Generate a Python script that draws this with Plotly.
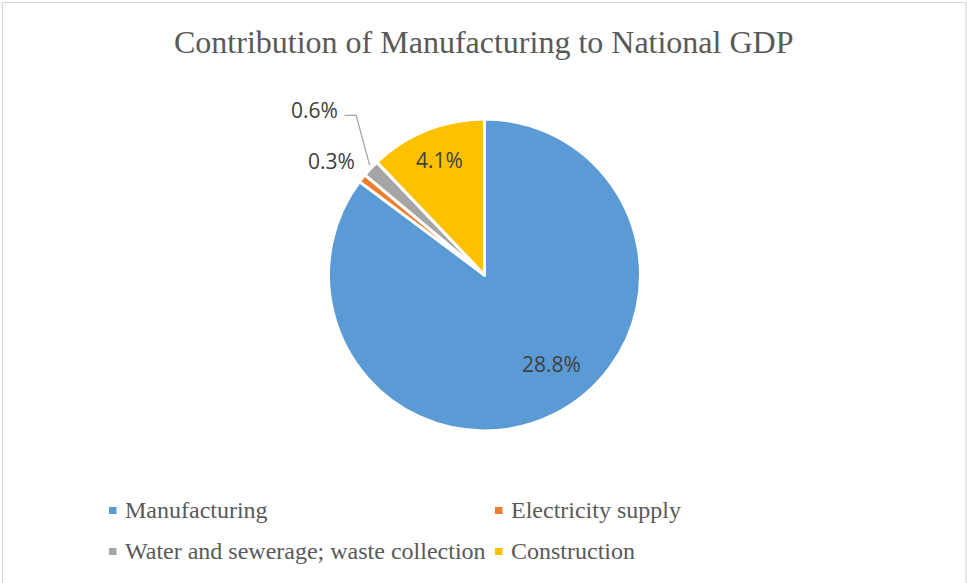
import math
import plotly.graph_objects as go

categories = ["Manufacturing", "Electricity supply", "Water and sewerage; waste collection", "Construction"]
values = [28.8, 0.3, 0.6, 4.1]
colors = ["#5B9BD5", "#ED7D31", "#A5A5A5", "#FFC000"]
title_text = "Contribution of Manufacturing to National GDP"

W, H = 967, 583
cx, cy, r = 484.5, 275, 156

fig = go.Figure()
fig.add_trace(go.Pie(
    labels=categories,
    values=values,
    sort=False,
    direction="clockwise",
    rotation=0,
    marker=dict(colors=colors, line=dict(color="white", width=3)),
    textinfo="none",
    showlegend=False,
    hoverinfo="label+value",
    domain=dict(x=[(cx - r) / W, (cx + r) / W], y=[(H - cy - r) / H, (H - cy + r) / H]),
))

def px(x):
    return x / W

def py(y):
    return 1 - y / H

annotations = [dict(
    text=title_text, x=0.5, y=py(42), xref="paper", yref="paper",
    xanchor="center", yanchor="middle", showarrow=False,
    font=dict(family="Liberation Serif, Times New Roman, serif", size=32, color="#595959"),
)]
shapes = [dict(type="rect", xref="paper", yref="paper", x0=px(2.5), x1=px(966), y0=-0.01, y1=py(2.5),
               line=dict(color="#D9D9D9", width=1.2), fillcolor="rgba(0,0,0,0)")]

# data labels: placed relative to each slice's mid-angle (computed from the values)
total = sum(values)
label_font = dict(family="Open Sans, Liberation Sans, sans-serif", size=21, color="#404040")
# (radius factor, dx, dy) style tweaks per label
label_style = [(0.71, 17, -10), (1.0, -31, -17.5), (1.0, -56, -58), (0.78, 0, -2)]
cum = 0.0
for v, (rf, dx, dy) in zip(values, label_style):
    mid = (cum + v / 2) / total * 2 * math.pi
    cum += v
    ex = cx + r * math.sin(mid)
    ey = cy - r * math.cos(mid)
    lx = cx + rf * r * math.sin(mid) + dx
    ly = cy - rf * r * math.cos(mid) + dy
    annotations.append(dict(text=f"{v:.1f}%", x=px(lx), y=py(ly), xref="paper", yref="paper",
                            xanchor="center", yanchor="middle", showarrow=False, font=label_font))
    if dy < -40:  # leader line for the displaced label
        path = f"M {px(ex - 1)} {py(ey - 3)} L {px(lx + 41.5)} {py(ly + 5)} L {px(lx + 30)} {py(ly + 5)}"
        shapes.append(dict(type="path", xref="paper", yref="paper", path=path,
                           line=dict(color="#A6A6A6", width=1.3)))

leg_pos = [(109, 510.5), (495, 510.5), (109, 551.5), (495, 551.5)]
for (lx, ly), name, col in zip(leg_pos, categories, colors):
    shapes.append(dict(type="rect", xref="paper", yref="paper",
                       x0=px(lx), x1=px(lx + 7.5), y0=py(ly + 3.5), y1=py(ly - 3.5),
                       fillcolor=col, line=dict(width=0)))
    annotations.append(dict(text=name, x=px(lx + 14), y=py(ly - 0.5), xref="paper", yref="paper",
                            xanchor="left", yanchor="middle", showarrow=False,
                            font=dict(family="Liberation Serif, Times New Roman, serif", size=24, color="#595959")))

fig.update_layout(
    width=W, height=H,
    margin=dict(l=0, r=0, t=0, b=0),
    paper_bgcolor="white", plot_bgcolor="white",
    annotations=annotations, shapes=shapes,
)
fig.write_html("out.html")
